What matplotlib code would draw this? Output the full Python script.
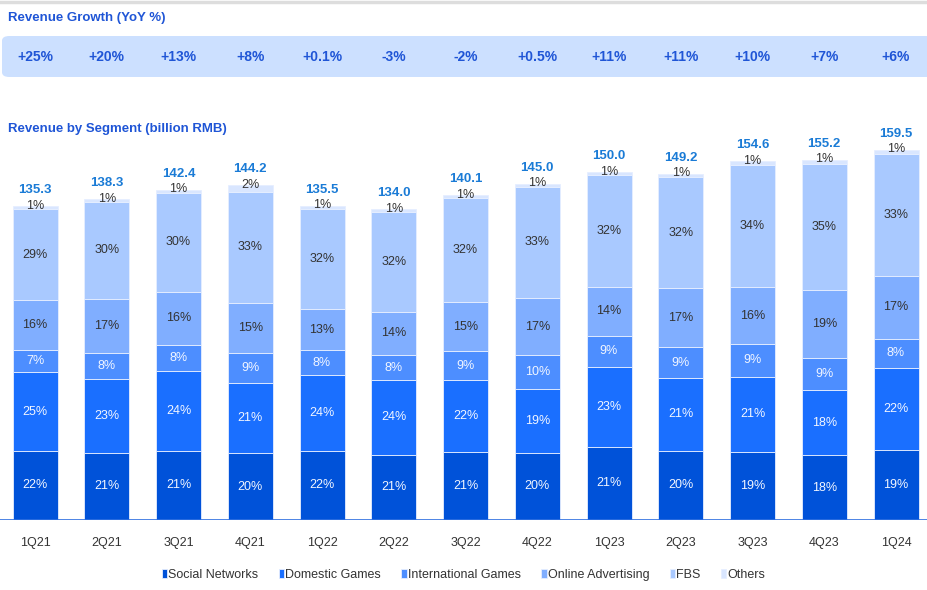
import matplotlib
matplotlib.use("Agg")
import matplotlib.pyplot as plt
from matplotlib.patches import FancyBboxPatch
from matplotlib.transforms import blended_transform_factory
import numpy as np

quarters = ["1Q21", "2Q21", "3Q21", "4Q21", "1Q22", "2Q22", "3Q22", "4Q22",
            "1Q23", "2Q23", "3Q23", "4Q23", "1Q24"]
totals = [135.3, 138.3, 142.4, 144.2, 135.5, 134.0, 140.1, 145.0,
          150.0, 149.2, 154.6, 155.2, 159.5]
growth = ["+25%", "+20%", "+13%", "+8%", "+0.1%", "-3%", "-2%", "+0.5%",
          "+11%", "+11%", "+10%", "+7%", "+6%"]
social = [22, 21, 21, 20, 22, 21, 21, 20, 21, 20, 19, 18, 19]
domestic = [25, 23, 24, 21, 24, 24, 22, 19, 23, 21, 21, 18, 22]
international = [7, 8, 8, 9, 8, 8, 9, 10, 9, 9, 9, 9, 8]
advertising = [16, 17, 16, 15, 13, 14, 15, 17, 14, 17, 16, 19, 17]
fbs = [29, 30, 30, 33, 32, 32, 32, 33, 32, 32, 34, 35, 33]
others = [1, 1, 1, 2, 1, 1, 1, 1, 1, 1, 1, 1, 1]

segment_names = ["Social Networks", "Domestic Games", "International Games",
                 "Online Advertising", "FBS", "Others"]
segments = [social, domestic, international, advertising, fbs, others]
colors = ["#0052D9", "#1A6FFF", "#4D8EFF", "#80AEFF", "#A9C9FF", "#D9E6FF"]
text_colors = ["#F2F6FF", "#F2F6FF", "#F2F6FF", "#333333", "#333333", "#333333"]

plt.rcParams["font.family"] = ["Liberation Sans", "DejaVu Sans"]

W, H = 927, 590
fig = plt.figure(figsize=(W / 100, H / 100), dpi=100)

# main axes: baseline at y=520 px, top at y=140 px
ax_bottom = (H - 520) / H
ax_top = (H - 140) / H
ax = fig.add_axes([0, ax_bottom, 1, ax_top - ax_bottom])
px_per_unit = 2.32
ax.set_ylim(0, 380 / px_per_unit)
spacing = 71.75
x0 = 35
ax.set_xlim(-x0 / spacing, (W - x0) / spacing)
x = np.arange(len(quarters))
width = 45 / spacing

tot = np.array(totals)
pct = np.array(segments, dtype=float)
pct_sum = pct.sum(axis=0)
bottom = np.zeros(len(quarters))
for k, (name, vals) in enumerate(zip(segment_names, segments)):
    h = np.array(vals) / pct_sum * tot
    ax.bar(x, h, width, bottom=bottom, color=colors[k], edgecolor="#E6EEFF",
           linewidth=0.6, label=name, zorder=2)
    for i in range(len(quarters)):
        if k == 5:
            ypos = bottom[i] + h[i] + 0.2
        else:
            ypos = bottom[i] + h[i] / 2
        ax.text(x[i], ypos, f"{vals[i]}%", ha="center", va="center",
                fontsize=9, color=text_colors[k], zorder=3)
    bottom += h

for i in range(len(quarters)):
    ax.text(x[i], tot[i] + 4.3, f"{totals[i]:.1f}", ha="center", va="bottom",
            fontsize=9.5, fontweight="bold", color="#1A7BD6", zorder=3)

ax.axhline(0, color="#2F6FE0", linewidth=1.2, zorder=4)
for s in ax.spines.values():
    s.set_visible(False)
ax.set_yticks([])
ax.set_xticks(x)
ax.set_xticklabels(quarters, fontsize=9, color="#333333")
ax.tick_params(axis="x", length=0, pad=12)

# growth band
band = FancyBboxPatch((2 / W, (H - 77) / H), (W + 20) / W, 41 / H,
                      boxstyle="round,pad=0,rounding_size=0.008",
                      transform=fig.transFigure, facecolor="#CCE0FF",
                      edgecolor="none", zorder=-1)
fig.patches.append(band)
trans = blended_transform_factory(ax.transData, fig.transFigure)
for i, g in enumerate(growth):
    fig.text(0, 0, g, transform=trans, ha="center", va="center",
             fontsize=10, fontweight="bold", color="#1F55D6",
             zorder=5).set_position((x[i], (H - 57) / H))

# top gray line
fig.add_artist(plt.Line2D([0, 1], [(H - 1.5) / H] * 2, color="#DDDDDD",
                          linewidth=2.5, transform=fig.transFigure))

fig.text(8 / W, (H - 18) / H, "Revenue Growth (YoY %)", fontsize=9.5,
         fontweight="bold", color="#1F55D6", va="center", ha="left")
fig.text(8 / W, (H - 129) / H, "Revenue by Segment (billion RMB)", fontsize=9.5,
         fontweight="bold", color="#1F55D6", va="center", ha="left")

# legend
leg = fig.legend(loc="center", bbox_to_anchor=(0.5, (H - 575) / H), ncol=6,
                 frameon=False, fontsize=9, handlelength=0.45,
                 handleheight=0.7, handletextpad=0.1, columnspacing=1.6)
for t in leg.get_texts():
    t.set_color("#333333")

fig.savefig("out.png", dpi=100)
